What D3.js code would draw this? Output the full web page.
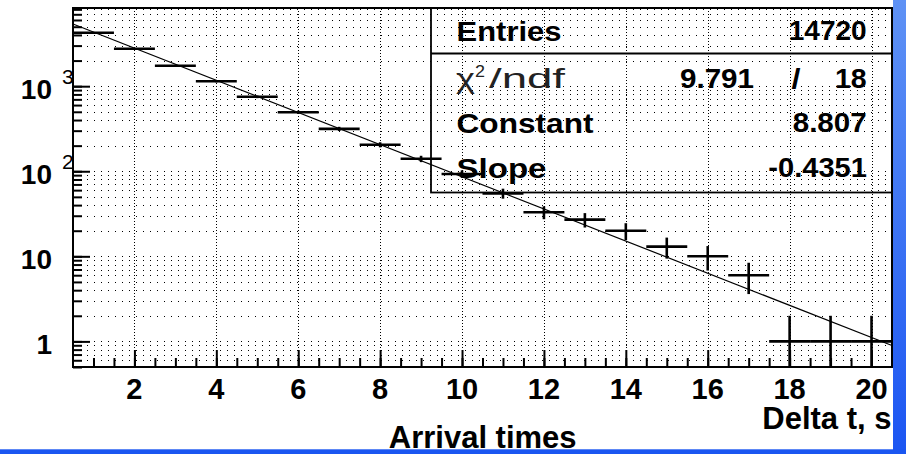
<!DOCTYPE html>
<html><head><meta charset="utf-8">
<script src="https://cdn.jsdelivr.net/npm/d3@7"></script>
<style>html,body{margin:0;padding:0;background:#fff;overflow:hidden}</style>
</head><body><svg id="c" width="906" height="454"></svg>
<script>
// ---- data ----
const binCenters = [1,2,3,4,5,6,7,8,9,10,11,12,13,14,15,16,17,18,19,20];
const counts     = [4250,2750,1740,1145,750,494,315,205,140,93,55,33,27,20,13,10,6,1,1,1];
const errors     = [65,52,42,34,27,22,18,14,12,9.6,7.4,5.7,5.2,4.5,3.6,3.2,2.4,1,1,1];
const xTickValues = [2,4,6,8,10,12,14,16,18,20];
const xTickLabels = ["2","4","6","8","10","12","14","16","18","20"];
const yMajorTicks = [1,10,100,1000];
const yTickBases  = ["1","10","10","10"];
const yTickExps   = ["","","2","3"];
const fitConstant = 8.807;
const fitSlope = -0.4351;
const statsLabels = ["Entries","Constant","Slope"];
const statsValues = ["14720","8.807","-0.4351"];
const chiValue = "9.791";
const ndfValue = "18";
const xTitle = "Delta t, s";
const histTitle = "Arrival times";

// ---- layout ----
const svg = d3.select("#c");
const L = 73, R = 892, T = 8, B = 367;
const x = d3.scaleLinear().domain([0.5, 20.5]).range([L, R]);
const y = d3.scaleLog().domain([0.5, 8300]).range([B, T]);

// blue borders
const defs = svg.append("defs");
const g1 = defs.append("linearGradient").attr("id","rg").attr("x1",0).attr("y1",0).attr("x2",0).attr("y2",1);
g1.append("stop").attr("offset","0%").attr("stop-color","#5f92f5");
g1.append("stop").attr("offset","100%").attr("stop-color","#1b55f2");
svg.append("rect").attr("x",893).attr("y",0).attr("width",13).attr("height",454).attr("fill","url(#rg)");
svg.append("rect").attr("x",0).attr("y",449.3).attr("width",906).attr("height",5).attr("fill","#1a56f1");

// grid
const grid = svg.append("g").attr("shape-rendering","crispEdges");
grid.selectAll("line.h").data(y.ticks()).join("line")
  .attr("x1", L).attr("x2", R)
  .attr("y1", d => Math.round(y(d)) + 0.5).attr("y2", d => Math.round(y(d)) + 0.5)
  .attr("stroke","#000").attr("stroke-width",1).attr("stroke-dasharray","1,6");
grid.selectAll("line.v").data(xTickValues).join("line")
  .attr("x1", d => Math.round(x(d)) + 0.5).attr("x2", d => Math.round(x(d)) + 0.5)
  .attr("y1", T).attr("y2", B)
  .attr("stroke","#000").attr("stroke-width",1).attr("stroke-dasharray","1,2");

// axes ticks (inward)
const minorX = d3.range(1, 20.5, 0.5);
const axX1 = svg.append("g").attr("transform",`translate(0,${B})`)
  .call(d3.axisBottom(x).tickValues(minorX).tickSize(-9).tickFormat(""));
const axX2 = svg.append("g").attr("transform",`translate(0,${B})`)
  .call(d3.axisBottom(x).tickValues(xTickValues).tickSize(-17).tickFormat(""));
const axY1 = svg.append("g").attr("transform",`translate(${L},0)`)
  .call(d3.axisLeft(y).tickValues(y.ticks()).tickSize(-9).tickFormat(""));
const axY2 = svg.append("g").attr("transform",`translate(${L},0)`)
  .call(d3.axisLeft(y).tickValues(yMajorTicks).tickSize(-17).tickFormat(""));
[axX1,axX2,axY1,axY2].forEach(a => {
  a.select(".domain").remove();
  a.selectAll("line").attr("stroke","#000").attr("stroke-width",2);
});

// frame
svg.append("rect").attr("x",L).attr("y",T).attr("width",R-L).attr("height",B-T)
  .attr("fill","none").attr("stroke","#000").attr("stroke-width",2);

// tick labels
svg.append("g").selectAll("text").data(xTickValues).join("text")
  .attr("x", d => x(d)).attr("y", 398.5).attr("text-anchor","middle")
  .attr("font-family","'Liberation Sans', Arial, sans-serif").attr("font-weight","bold")
  .attr("font-size",29).text((d,i) => xTickLabels[i]);

const yl = svg.append("g");
yMajorTicks.forEach((v,i) => {
  yl.append("text").attr("x",52).attr("y", y(v) + 12.5).attr("text-anchor","end")
    .attr("font-family","'Liberation Sans', Arial, sans-serif").attr("font-weight","bold")
    .attr("font-size",28).text(yTickBases[i]);
  if (yTickExps[i]) {
    yl.append("text").attr("x",62).attr("y", y(v) - 2)
      .attr("font-family","'Liberation Sans', Arial, sans-serif")
      .attr("font-size",21).text(yTickExps[i]);
  }
});

// titles
svg.append("text").attr("x",891.5).attr("y",429.3).attr("text-anchor","end")
  .attr("font-family","'Liberation Sans', Arial, sans-serif").attr("font-weight","bold")
  .attr("font-size",31).text(xTitle);
svg.append("text").attr("x",482.7).attr("y",448.4).attr("text-anchor","middle")
  .attr("font-family","'Liberation Sans', Arial, sans-serif").attr("font-weight","bold")
  .attr("font-size",31).text(histTitle);

// fit line
const fitX = [0.5, 20.5];
svg.append("path")
  .attr("d", d3.line().x(d => x(d)).y(d => y(Math.exp(fitConstant + fitSlope * d)))(fitX))
  .attr("fill","none").attr("stroke","#000").attr("stroke-width",1.2);

// data
const dg = svg.append("g").attr("stroke","#000").attr("stroke-width",2.6);
dg.selectAll("line.hb").data(binCenters).join("line")
  .attr("x1", d => x(d - 0.5)).attr("x2", d => x(d + 0.5))
  .attr("y1", (d,i) => y(counts[i])).attr("y2", (d,i) => y(counts[i]));
dg.selectAll("line.vb").data(binCenters).join("line")
  .attr("x1", d => x(d)).attr("x2", d => x(d))
  .attr("y1", (d,i) => y(counts[i] + errors[i]))
  .attr("y2", (d,i) => y(Math.max(counts[i] - errors[i], 0.5)));

// stats box
const sb = svg.append("g");
sb.append("rect").attr("x",431).attr("y",T).attr("width",R-431).attr("height",184.5)
  .attr("fill","none").attr("stroke","#000").attr("stroke-width",1.8);
sb.append("line").attr("x1",431).attr("x2",R).attr("y1",53.5).attr("y2",53.5)
  .attr("stroke","#000").attr("stroke-width",1.8);

function st(txt, x0, base, len, bold, size) {
  const t = sb.append("text").attr("x",x0).attr("y",base)
    .attr("font-family","'Liberation Sans', Arial, sans-serif")
    .attr("font-weight", bold ? "bold" : "normal")
    .attr("font-size", size || 27).text(txt);
  if (len) t.attr("textLength",len).attr("lengthAdjust","spacingAndGlyphs");
  return t;
}
const labelBase = [40.5, 133.3, 177.8];
const labelLen = [105, 137, 90];
const valueEnd = [866.7, 866.7, 867];
const valueLen = [78, 74, 98.7];
statsLabels.forEach((s,i) => st(s, 456.5, labelBase[i], labelLen[i], true));
statsValues.forEach((s,i) => st(s, valueEnd[i] - valueLen[i], labelBase[i] - 1, valueLen[i], true));

// chi2/ndf row
st("χ", 456, 88.3, 19, false, 27).attr("fill","#222");
st("2", 475, 76.5, 10, false, 17).attr("fill","#222");
st("/ndf", 489, 88.3, 76, false, 27).attr("fill","#222");
st(chiValue, 754 - 74, 87.5, 74, true);
st("/", 791.5, 87.5, 9, true);
st(ndfValue, 866.7 - 31.7, 87.5, 31.7, true);
</script>
</body></html>
